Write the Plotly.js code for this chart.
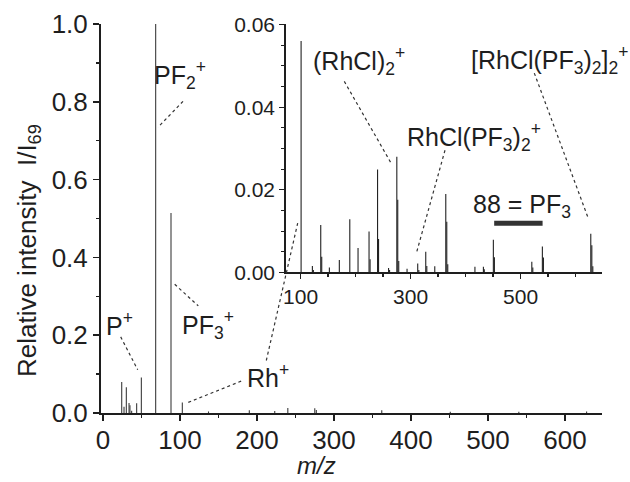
<!DOCTYPE html>
<html><head><meta charset="utf-8">
<script src="https://cdn.plot.ly/plotly-3.0.1.min.js"></script>
<style>html,body{margin:0;padding:0;background:#fff}#chart{width:630px;height:482px}</style>
</head><body><div id="chart"></div>
<script>
// ---- data: main panel (m/z, I/I69) ----
const mainMz  = [24.3, 27.3, 30.3, 33.8, 35.0, 37.2, 43.7, 49.8, 68.4, 88.3, 103, 137, 190, 223, 240, 275, 277, 362, 451, 540, 628];
const mainInt = [0.080, 0.016, 0.066, 0.026, 0.020, 0.006, 0.025, 0.091, 1.0, 0.514, 0.027, 0.004, 0.007, 0.005, 0.013, 0.012, 0.008, 0.007, 0.003, 0.003, 0.004];

// ---- data: inset (expanded high-mass region) ----
const insetMz  = [101, 121.5, 123.3, 136.7, 138.5, 152.4, 170.5, 189.5, 204.5, 224.5, 226.4, 240, 241.8, 260, 261.8,
                  275, 276.7, 278.5, 293.6, 313, 315, 327.6, 329.5, 344, 364, 365.8, 367.6, 417, 432.4, 434,
                  450.5, 452.4, 520.4, 522.2, 539.6, 541.5, 627.6, 629.5, 631.3];
const insetInt = [0.056, 0.0016, 0.0006, 0.0115, 0.0038, 0.0012, 0.0030, 0.0129, 0.0059, 0.0099, 0.0032, 0.0249, 0.0081, 0.0011, 0.0006,
                  0.0280, 0.0176, 0.0028, 0.0009, 0.0022, 0.0006, 0.0050, 0.0016, 0.0015, 0.0190, 0.0123, 0.0020, 0.0014, 0.0014, 0.0008,
                  0.0079, 0.0037, 0.0026, 0.0012, 0.0063, 0.0036, 0.0094, 0.0066, 0.0015];

// PF3 mass-difference bar (88 = PF3) in inset units
const pf3BarMz = [452, 540];
const pf3BarInt = [0.0119, 0.0119];

// ---- helpers ----
function sticks(mz, inten){
  const x=[], y=[];
  mz.forEach((m,i)=>{ x.push(m,m,null); y.push(0,inten[i],null); });
  return {x, y};
}
const L=101, R=602, T=23.5, B=413.3;
const PX = x => (x-L)/(R-L);
const PY = y => (B-y)/(B-T);

const FONT = 'Liberation Sans, Arial, sans-serif';
const INK = '#1e1e1e';

const m = sticks(mainMz, mainInt);
const ins = sticks(insetMz, insetInt);

const traces = [
  {x:m.x, y:m.y, mode:'lines', line:{color:'#3c3c3c', width:1.1}, xaxis:'x', yaxis:'y', hoverinfo:'skip', showlegend:false},
  {x:ins.x, y:ins.y, mode:'lines', line:{color:'#222', width:1.1}, xaxis:'x2', yaxis:'y2', hoverinfo:'skip', showlegend:false},
  {x:pf3BarMz, y:pf3BarInt, mode:'lines', line:{color:'#333', width:5}, xaxis:'x2', yaxis:'y2', hoverinfo:'skip', showlegend:false}
];

function lbl(text, x, y, size, extra){
  return Object.assign({xref:'paper', yref:'paper', x:PX(x), y:PY(y), text:text, showarrow:false,
    xanchor:'center', yanchor:'middle', font:{family:FONT, size:size||25, color:INK}}, extra||{});
}
function dash(x0,y0,x1,y1){
  return {type:'line', xref:'paper', yref:'paper', x0:PX(x0), y0:PY(y0), x1:PX(x1), y1:PY(y1),
    line:{color:'#333', width:1.2, dash:'dot'}};
}

const axBase = {showgrid:false, zeroline:false, showline:true, linecolor:INK, ticks:'outside', tickcolor:INK};

const layout = {
  width:630, height:482,
  margin:{l:L, r:630-R, t:T, b:482-B, pad:0},
  paper_bgcolor:'#fff', plot_bgcolor:'rgba(0,0,0,0)',
  showlegend:false,
  xaxis: Object.assign({}, axBase, {domain:[0,1], range:[-2.6,648], dtick:100, tick0:0, linewidth:2, ticklen:6, tickwidth:1.5,
     ticklabelstandoff:-3,
     tickfont:{family:FONT, size:26, color:INK}, minor:{dtick:50, ticks:'outside', ticklen:3, tickcolor:INK, showgrid:false}}),
  yaxis: Object.assign({}, axBase, {domain:[0,1], range:[0,1.0], dtick:0.2, tick0:0, tickformat:'.1f', linewidth:2, ticklen:6, tickwidth:1.5,
     tickfont:{family:FONT, size:26, color:INK}, minor:{dtick:0.1, ticks:'outside', ticklen:3, tickcolor:INK, showgrid:false}}),
  xaxis2: Object.assign({}, axBase, {anchor:'y2', domain:[PX(285.7),1], range:[73,648], dtick:200, tick0:100, linewidth:1.5, ticklen:5, tickwidth:1.2,
     tickfont:{family:FONT, size:21, color:INK}, minor:{dtick:50, ticks:'outside', ticklen:3, tickcolor:INK, showgrid:false}}),
  yaxis2: Object.assign({}, axBase, {anchor:'x2', domain:[PY(272.5), PY(24)], range:[0,0.06], dtick:0.02, tick0:0, tickformat:'.2f', linewidth:1.5, ticklen:5, tickwidth:1.2,
     tickfont:{family:FONT, size:21, color:INK}, minor:{dtick:0.005, ticks:'outside', ticklen:3, tickcolor:INK, showgrid:false}}),
  annotations: [
    lbl('Relative intensity&nbsp; I/I<sub>69</sub>', 28, 251, 26, {textangle:-90}),
    lbl('<i>m/z</i>', 316, 466, 24),
    lbl('PF<sub>2</sub><sup>+</sup>', 180, 75, 25),
    lbl('P<sup>+</sup>', 119, 324, 25),
    lbl('PF<sub>3</sub><sup>+</sup>', 208, 325, 25),
    lbl('Rh<sup>+</sup>', 268, 376, 25),
    lbl('(RhCl)<sub>2</sub><sup>+</sup>', 359, 61, 25),
    lbl('RhCl(PF<sub>3</sub>)<sub>2</sub><sup>+</sup>', 474, 137, 25),
    lbl('[RhCl(PF<sub>3</sub>)<sub>2</sub>]<sub>2</sub><sup>+</sup>', 550, 60, 25),
    lbl('88 = PF<sub>3</sub>', 522, 206, 25)
  ],
  shapes: [
    dash(120.7,337, 137.7,370),
    dash(183,101, 158,127),
    dash(174.7,284.3, 198.3,306),
    dash(188.3,402.7, 242.7,380.7),
    dash(266.3,360.7, 297.7,223),
    dash(344.3,81, 391.7,164),
    dash(445,150, 416.7,252),
    dash(534.3,72.7, 588.3,218.3)
  ]
};

Plotly.newPlot('chart', traces, layout, {staticPlot:true, displayModeBar:false});
</script>
</body></html>
